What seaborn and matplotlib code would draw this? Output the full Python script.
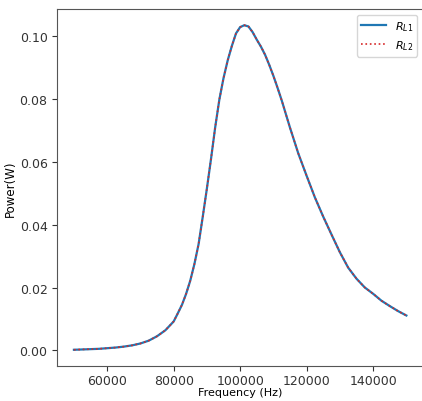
import matplotlib
matplotlib.use("Agg")
import matplotlib.pyplot as plt
import seaborn as sns
import pandas as pd

frequency = [50000, 52500, 55000, 57500, 60000, 62500, 65000, 67500, 70000, 72500,
             75000, 77500, 80000, 81250, 82500, 83750, 85000, 86250, 87500, 88750,
             90000, 91250, 92500, 93750, 95000, 96250, 97500, 98750, 100000, 101250,
             102500, 103750, 105000, 106250, 107500, 108750, 110000, 111250, 112500, 115000,
             117500, 120000, 122500, 125000, 127500, 130000, 132500, 135000, 137500, 140000,
             142500, 145000, 147500, 150000]
power_rl1 = [0.0002, 0.0003, 0.0004, 0.0005, 0.0007, 0.0009, 0.0012, 0.0016, 0.0022, 0.0031,
             0.0045, 0.0064, 0.0092, 0.0118, 0.0145, 0.0180, 0.0222, 0.0275, 0.0338, 0.0425,
             0.0515, 0.0610, 0.0710, 0.0798, 0.0866, 0.0922, 0.0968, 0.1008, 0.1028, 0.1034,
             0.1030, 0.1012, 0.0988, 0.0966, 0.0940, 0.0908, 0.0873, 0.0835, 0.0795, 0.0708,
             0.0626, 0.0555, 0.0486, 0.0425, 0.0368, 0.0312, 0.0263, 0.0228, 0.0200, 0.0180,
             0.0158, 0.0141, 0.0125, 0.0111]
power_rl2 = list(power_rl1)
labels = [r"$R_{L1}$", r"$R_{L2}$"]

df1 = pd.DataFrame({"f": frequency, "p": power_rl1})
df2 = pd.DataFrame({"f": frequency, "p": power_rl2})

fig = plt.figure(figsize=(4.22, 4.02), dpi=100)
ax = fig.add_axes([57.3 / 422, 35 / 402, (423 - 57.3) / 422, 357 / 402])

sns.lineplot(data=df1, x="f", y="p", ax=ax, color="#1f77b4", linewidth=1.6, label=labels[0])
sns.lineplot(data=df2, x="f", y="p", ax=ax, color="#d62728", linewidth=1.2, linestyle=":", label=labels[1])

ax.set_xticks([60000, 80000, 100000, 120000, 140000])
ax.set_xlabel("Frequency (Hz)", fontsize=8, labelpad=0)
ax.set_ylabel("Power(W)", fontsize=8.5, labelpad=2)
ax.tick_params(labelsize=9, colors="#333333")
ax.tick_params(axis="x", pad=2.5)
for s in ax.spines.values():
    s.set_color("#555555")
ax.legend(loc="upper right", fontsize=8, handlelength=2.2)

fig.savefig("out.png", dpi=100)
